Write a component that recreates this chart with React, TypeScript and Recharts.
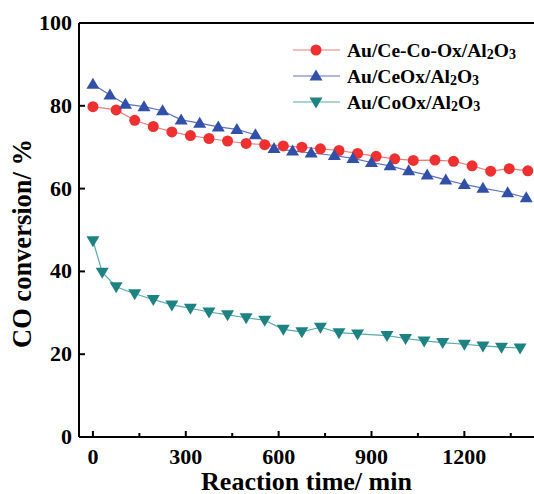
import { LineChart, Line, XAxis, YAxis, ReferenceLine } from 'recharts';

// Reaction time (min) and CO conversion (%)
const redTime = [0, 75, 135, 195, 255, 315, 375, 435, 495, 555, 615, 675, 735, 795, 855, 915, 975, 1035, 1105, 1165, 1225, 1285, 1345, 1405];
const redConv = [79.8, 79.0, 76.5, 75.0, 73.7, 72.8, 72.1, 71.5, 70.9, 70.6, 70.3, 70.0, 69.6, 69.2, 68.5, 67.8, 67.2, 66.8, 66.9, 66.6, 65.5, 64.2, 64.8, 64.3];

const blueTime = [0, 55, 105, 165, 225, 285, 345, 405, 465, 525, 585, 645, 705, 780, 840, 900, 960, 1020, 1080, 1140, 1200, 1260, 1340, 1400];
const blueConv = [85.2, 82.6, 80.4, 79.8, 78.8, 76.6, 75.8, 74.9, 74.3, 73.0, 69.7, 69.1, 68.6, 68.0, 67.3, 66.3, 65.5, 64.3, 63.3, 62.1, 61.0, 60.1, 59.0, 57.8];

const tealTime = [0, 30, 75, 135, 195, 255, 315, 375, 435, 495, 555, 615, 675, 735, 795, 855, 950, 1010, 1070, 1130, 1200, 1260, 1320, 1380];
const tealConv = [47.4, 39.8, 36.3, 34.6, 33.2, 31.9, 31.1, 30.2, 29.5, 28.8, 28.2, 26.0, 25.4, 26.5, 25.2, 24.9, 24.5, 23.8, 23.2, 22.8, 22.4, 22.0, 21.7, 21.5];

const xTicks = [0, 150, 300, 450, 600, 750, 900, 1050, 1200, 1350];
const yTicks = [0, 20, 40, 60, 80, 100];

const toRows = (t: number[], v: number[]) => t.map((time, i) => ({ time, conv: v[i] }));
const redData = toRows(redTime, redConv);
const blueData = toRows(blueTime, blueConv);
const tealData = toRows(tealTime, tealConv);

const FONT = '"Liberation Serif", "Times New Roman", serif';

const RED = '#ee3030';
const BLUE = '#3350a8';
const TEAL = '#1e8282';

const Circle = (props: any) => {
  const { cx, cy, key } = props;
  if (cx == null || cy == null) return null;
  return <circle key={key} cx={cx} cy={cy} r={5.5} fill={RED} />;
};

const UpTri = (props: any) => {
  const { cx, cy, key } = props;
  if (cx == null || cy == null) return null;
  return <polygon key={key} points={`${cx},${cy - 6.5} ${cx - 6.5},${cy + 4.5} ${cx + 6.5},${cy + 4.5}`} fill={BLUE} />;
};

const DownTri = (props: any) => {
  const { cx, cy, key } = props;
  if (cx == null || cy == null) return null;
  return <polygon key={key} points={`${cx},${cy + 6.5} ${cx - 6.5},${cy - 4.5} ${cx + 6.5},${cy - 4.5}`} fill={TEAL} />;
};

const XTick = (props: any) => {
  const { x, y, payload } = props;
  const major = payload.value % 300 === 0;
  return (
    <g>
      <line x1={x} y1={y} x2={x} y2={y - (major ? 6 : 4)} stroke="#000" strokeWidth={2} />
      {major && (
        <text x={x} y={y + 27} textAnchor="middle" fontFamily={FONT} fontWeight="bold" fontSize={22} fill="#000">
          {payload.value}
        </text>
      )}
    </g>
  );
};

const YTick = (props: any) => {
  const { x, y, payload } = props;
  return (
    <g>
      <line x1={x} y1={y} x2={x + 6} y2={y} stroke="#000" strokeWidth={2} />
      <text x={x - 7} y={y + 7} textAnchor="end" fontFamily={FONT} fontWeight="bold" fontSize={22} fill="#000">
        {payload.value}
      </text>
    </g>
  );
};

const legendItems = [
  { name: 'Au/Ce-Co-Ox/Al', color: RED, line: '#f07a7a', shape: 'circle' },
  { name: 'Au/CeOx/Al', color: BLUE, line: '#6070c0', shape: 'up' },
  { name: 'Au/CoOx/Al', color: TEAL, line: '#55aaaa', shape: 'down' },
];

const LegendBox = () => (
  <svg width={240} height={80} style={{ position: 'absolute', left: 290, top: 38 }}>
    {legendItems.map((it, i) => {
      const cy = 12 + i * 26;
      const cx = 26;
      return (
        <g key={it.name}>
          <line x1={3} y1={cy} x2={50} y2={cy} stroke={it.line} strokeWidth={1.2} />
          {it.shape === 'circle' && <circle cx={cx} cy={cy} r={5.5} fill={it.color} />}
          {it.shape === 'up' && <polygon points={`${cx},${cy - 6.5} ${cx - 6.5},${cy + 4.5} ${cx + 6.5},${cy + 4.5}`} fill={it.color} />}
          {it.shape === 'down' && <polygon points={`${cx},${cy + 6.5} ${cx - 6.5},${cy - 4.5} ${cx + 6.5},${cy - 4.5}`} fill={it.color} />}
          <text x={57} y={cy + 7} fontFamily={FONT} fontWeight="bold" fontSize={19.5} fill="#000">
            {it.name}
            <tspan fontSize={14} dy={2}>2</tspan>
            <tspan dy={-2}>O</tspan>
            <tspan fontSize={14} dy={2}>3</tspan>
          </text>
        </g>
      );
    })}
  </svg>
);

export default function App() {
  return (
    <div style={{ position: 'absolute', left: 0, top: 0, width: 534, height: 494, background: '#fff' }}>
      <LineChart width={534} height={494} margin={{ top: 23, right: 0, bottom: 0, left: 0 }}>
        <XAxis
          type="number"
          dataKey="time"
          domain={[-45, 1425]}
          ticks={xTicks}
          interval={0}
          allowDuplicatedCategory={false}
          height={57}
          tickSize={0}
          tickMargin={0}
          tick={<XTick />}
          axisLine={{ stroke: '#000', strokeWidth: 2 }}
          label={{ value: 'Reaction time/ min', position: 'insideBottom', offset: 4, fontFamily: FONT, fontWeight: 'bold', fontSize: 26, fill: '#000' }}
        />
        <YAxis
          type="number"
          domain={[0, 100]}
          ticks={yTicks}
          interval={0}
          width={79}
          tickSize={0}
          tickMargin={0}
          tick={<YTick />}
          axisLine={{ stroke: '#000', strokeWidth: 2 }}
          label={{ value: 'CO conversion/ %', angle: -90, position: 'insideLeft', offset: 22, dy: 118, fontFamily: FONT, fontWeight: 'bold', fontSize: 26.5, fill: '#000' }}
        />
        <ReferenceLine y={100} stroke="#000" strokeWidth={2} />
        <Line data={redData} dataKey="conv" name="Au/Ce-Co-Ox/Al2O3" stroke="#f07a7a" strokeWidth={1.2} dot={<Circle />} activeDot={false} isAnimationActive={false} />
        <Line data={blueData} dataKey="conv" name="Au/CeOx/Al2O3" stroke="#6070c0" strokeWidth={1.2} dot={<UpTri />} activeDot={false} isAnimationActive={false} />
        <Line data={tealData} dataKey="conv" name="Au/CoOx/Al2O3" stroke="#55aaaa" strokeWidth={1.2} dot={<DownTri />} activeDot={false} isAnimationActive={false} />
      </LineChart>
      <LegendBox />
    </div>
  );
}
